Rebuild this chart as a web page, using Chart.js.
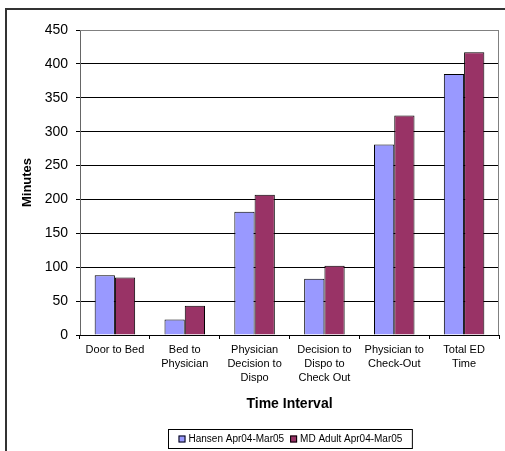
<!DOCTYPE html>
<html>
<head>
<meta charset="utf-8">
<script src="https://cdn.jsdelivr.net/npm/chart.js@4/dist/chart.umd.min.js"></script>
<style>
  body { margin: 0; background: #fff; }
  #wrap { position: relative; width: 505px; height: 451px; }
</style>
</head>
<body>
<div id="wrap"><canvas id="myChart" width="505" height="451"></canvas></div>
<script>
// data
const categories = [
    ['Door to Bed'],
    ['Bed to', 'Physician'],
    ['Physician', 'Decision to', 'Dispo'],
    ['Decision to', 'Dispo to', 'Check Out'],
    ['Physician to', 'Check-Out'],
    ['Total ED', 'Time']
];
const hansen = [88, 23, 182, 83, 281, 385];
const mdAdult = [85, 43, 207, 102, 324, 417];
const seriesNames = ['Hansen Apr04-Mar05', 'MD Adult Apr04-Mar05'];
const seriesColors = ['#9999FF', '#993366'];

const FONT = 'Arial, "Liberation Sans", sans-serif';

// frame, plot border and boxed legend (Excel style)
const excelBits = {
    id: 'excelBits',
    afterDraw(chart) {
        const ctx = chart.ctx;
        const a = chart.chartArea;
        ctx.save();
        // outer frame (top + left only visible)
        ctx.strokeStyle = '#333';
        ctx.lineWidth = 2;
        ctx.beginPath();
        ctx.moveTo(6, 460);
        ctx.lineTo(6, 9);
        ctx.lineTo(510, 9);
        ctx.stroke();
        // plot area border top/right
        ctx.strokeStyle = '#808080';
        ctx.lineWidth = 1;
        ctx.beginPath();
        ctx.moveTo(a.left, a.top + 0.5);
        ctx.lineTo(a.right - 0.5, a.top + 0.5);
        ctx.lineTo(a.right - 0.5, a.bottom);
        ctx.stroke();

        // legend
        ctx.font = '10px ' + FONT;
        ctx.textBaseline = 'middle';
        const sw = 7, gap = 3, between = 6;
        let total = 0;
        const widths = seriesNames.map(n => ctx.measureText(n).width);
        widths.forEach(w => total += sw + gap + w);
        total += between * (seriesNames.length - 1);
        const boxW = total + 20;
        const cx = (a.left + a.right) / 2;
        const bx = Math.round(cx - boxW / 2) + 0.5;
        const by = 429.5;
        ctx.strokeStyle = '#000';
        ctx.strokeRect(bx, by, boxW, 19);
        let x = bx + 10;
        const y = 439;
        seriesNames.forEach((n, i) => {
            ctx.fillStyle = seriesColors[i];
            ctx.fillRect(x, y - 3.5, sw, sw);
            ctx.strokeStyle = '#000';
            ctx.strokeRect(x + 0.5, y - 3, sw - 1, sw - 1);
            ctx.fillStyle = '#000';
            ctx.textAlign = 'left';
            ctx.fillText(n, x + sw + gap, y);
            x += sw + gap + widths[i] + between;
        });
        ctx.restore();
    }
};

const ctx = document.getElementById('myChart');
const myChart = new Chart(ctx, {
    type: 'bar',
    data: {
        labels: categories,
        datasets: [{
            label: seriesNames[0],
            data: hansen,
            backgroundColor: seriesColors[0],
            borderColor: '#000',
            borderWidth: 1
        }, {
            label: seriesNames[1],
            data: mdAdult,
            backgroundColor: seriesColors[1],
            borderColor: '#000',
            borderWidth: 1
        }]
    },
    options: {
        responsive: false,
        animation: false,
        devicePixelRatio: 1,
        categoryPercentage: 0.58,
        barPercentage: 1,
        layout: { padding: { left: 0, right: 6, top: 30, bottom: 36 } },
        plugins: {
            legend: { display: false },
            tooltip: { enabled: false }
        },
        scales: {
            y: {
                min: 0,
                max: 450,
                ticks: { stepSize: 50, color: '#000', padding: 8, font: { family: FONT, size: 14 } },
                grid: {
                    color: (c) => c.tick && c.tick.value === 450 ? '#808080' : '#000',
                    tickColor: '#000',
                    tickLength: 4
                },
                border: { color: '#666', width: 1 },
                title: {
                    display: true,
                    text: 'Minutes',
                    color: '#000',
                    padding: { top: 20 },
                    font: { family: FONT, size: 13, weight: 'bold' }
                },
                afterFit(scale) { scale.width = 80; }
            },
            x: {
                ticks: {
                    color: '#000',
                    padding: 4,
                    maxRotation: 0,
                    autoSkip: false,
                    font: { family: FONT, size: 11, lineHeight: 1.27 }
                },
                grid: { drawOnChartArea: false, tickColor: '#000', tickLength: 4 },
                border: { color: '#000' },
                title: {
                    display: true,
                    text: 'Time Interval',
                    color: '#000',
                    padding: { bottom: 2 },
                    font: { family: FONT, size: 14, weight: 'bold' }
                },
                afterFit(scale) { scale.height = 451 - 36 - 335; }
            }
        }
    },
    plugins: [excelBits]
});
</script>
</body>
</html>
